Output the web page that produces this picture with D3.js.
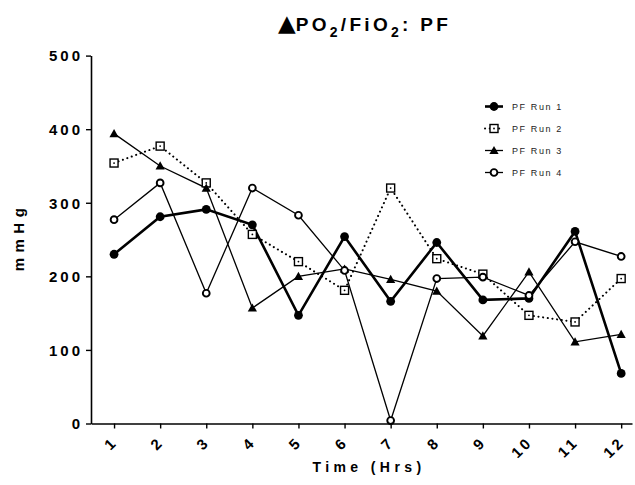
<!DOCTYPE html>
<html>
<head>
<meta charset="utf-8">
<script src="https://cdn.jsdelivr.net/npm/d3@7"></script>
<style>
    body { margin: 0; background: #fff; }
    svg { display: block; }
    text { font-family: "Liberation Sans", Arial, sans-serif; }
</style>
</head>
<body>
<svg id="chart" width="635" height="485"></svg>
<script>
const hours = [1, 2, 3, 4, 5, 6, 7, 8, 9, 10, 11, 12];
const run1 = [230, 281, 291, 270, 147, 254, 166, 246, 168, 170, 261, 68];
const run2 = [354, 377, 327, 257, 220, 181, 320, 224, 203, 147, 138, 197];
const run3 = [394, 350, 320, 157, 200, 210, 196, 180, 119, 206, 111, 121];
const run4 = [277, 327, 177, 320, 283, 208, 4, 197, 199, 174, 247, 227];
const seriesNames = ["PF Run 1", "PF Run 2", "PF Run 3", "PF Run 4"];
const yTicks = [0, 100, 200, 300, 400, 500];

const svg = d3.select("#chart");

const x = d3.scaleLinear().domain([0.5, 12.235]).range([91, 632]);
const y = d3.scaleLinear().domain([0, 500]).range([423.5, 55.6]);

// styles per run: line width, dash, marker
const styles = [
    { width: 2.6, dash: null, marker: "dot" },
    { width: 2, dash: "0.1,4.6", marker: "square" },
    { width: 1.3, dash: null, marker: "triangle" },
    { width: 1.3, dash: null, marker: "ring" }
];
const runs = [run1, run2, run3, run4];

function marker(g, type) {
    if (type === "dot") {
        g.append("circle").attr("r", 4.4).attr("fill", "#000");
    } else if (type === "square") {
        g.append("rect").attr("x", -4).attr("y", -4).attr("width", 8).attr("height", 8)
            .attr("fill", "#fff").attr("stroke", "#000").attr("stroke-width", 1.4);
        g.append("circle").attr("r", 0.9).attr("fill", "#000");
    } else if (type === "triangle") {
        g.append("path").attr("d", "M0,-4.6L4.6,3.6L-4.6,3.6Z").attr("fill", "#000");
    } else {
        g.append("circle").attr("r", 3.4).attr("fill", "#fff")
            .attr("stroke", "#000").attr("stroke-width", 1.9);
    }
}

// axes
const yAxis = svg.append("g")
    .attr("transform", "translate(91,0)")
    .call(d3.axisLeft(y).tickValues(yTicks).tickSize(5).tickSizeOuter(0).tickPadding(3));

const xAxis = svg.append("g")
    .attr("transform", "translate(0,423.5)")
    .call(d3.axisBottom(x).tickValues(hours).tickSize(5).tickSizeOuter(0));

[yAxis, xAxis].forEach(a => {
    a.select(".domain").attr("stroke-width", 1.6);
    a.selectAll(".tick line").attr("stroke-width", 1.4);
    a.selectAll("text")
        .attr("fill", "#000")
        .style("font-size", "15px")
        .style("font-weight", "bold")
        .style("letter-spacing", "3px");
});

yAxis.selectAll("text").attr("dy", "0.35em");

xAxis.selectAll("text")
    .attr("text-anchor", "end")
    .attr("dy", null)
    .attr("y", 0)
    .attr("transform", "translate(4,19.5) rotate(-45)");

// lines and markers
const line = d3.line().x((d, i) => x(hours[i])).y(d => y(d));

runs.forEach((values, k) => {
    const s = styles[k];
    svg.append("path")
        .datum(values)
        .attr("d", line)
        .attr("fill", "none")
        .attr("stroke", "#000")
        .attr("stroke-width", s.width)
        .attr("stroke-linecap", s.dash ? "round" : "butt")
        .attr("stroke-dasharray", s.dash);
});

runs.forEach((values, k) => {
    values.forEach((v, i) => {
        const g = svg.append("g").attr("transform", `translate(${x(hours[i])},${y(v)})`);
        marker(g, styles[k].marker);
    });
});

// legend
const legend = svg.append("g").attr("transform", "translate(494,106.5)");
seriesNames.forEach((name, k) => {
    const s = styles[k];
    const row = legend.append("g").attr("transform", `translate(0,${k * 22})`);
    row.append("line")
        .attr("x1", -9).attr("x2", 9)
        .attr("stroke", "#000")
        .attr("stroke-width", s.width)
        .attr("stroke-linecap", s.dash ? "round" : "butt")
        .attr("stroke-dasharray", s.dash);
    marker(row, s.marker);
    row.append("text")
        .attr("x", 18)
        .attr("dy", "0.35em")
        .attr("fill", "#222")
        .style("font-size", "9px")
        .style("letter-spacing", "1.6px")
        .text(name);
});

// titles
const title = svg.append("text")
    .attr("x", 278)
    .attr("y", 31)
    .style("font-size", "19px")
    .style("font-weight", "bold")
    .style("letter-spacing", "3.3px");
title.append("tspan").style("font-family", "DejaVu Sans").style("font-size", "23px")
    .style("letter-spacing", "0px").text("▲");
title.append("tspan").text("PO");
title.append("tspan").attr("dy", 6).style("font-size", "14px").text("2");
title.append("tspan").attr("dy", -6).text("/FiO");
title.append("tspan").attr("dy", 6).style("font-size", "14px").text("2");
title.append("tspan").attr("dy", -6).text(": PF");

svg.append("text")
    .attr("x", 369)
    .attr("y", 472)
    .attr("text-anchor", "middle")
    .style("font-size", "14px")
    .style("font-weight", "bold")
    .style("letter-spacing", "4.4px")
    .text("Time (Hrs)");

svg.append("text")
    .attr("transform", "translate(23.5,237) rotate(-90)")
    .attr("text-anchor", "middle")
    .style("font-size", "15px")
    .style("font-weight", "bold")
    .style("letter-spacing", "5.5px")
    .text("mmHg");
</script>
</body>
</html>
